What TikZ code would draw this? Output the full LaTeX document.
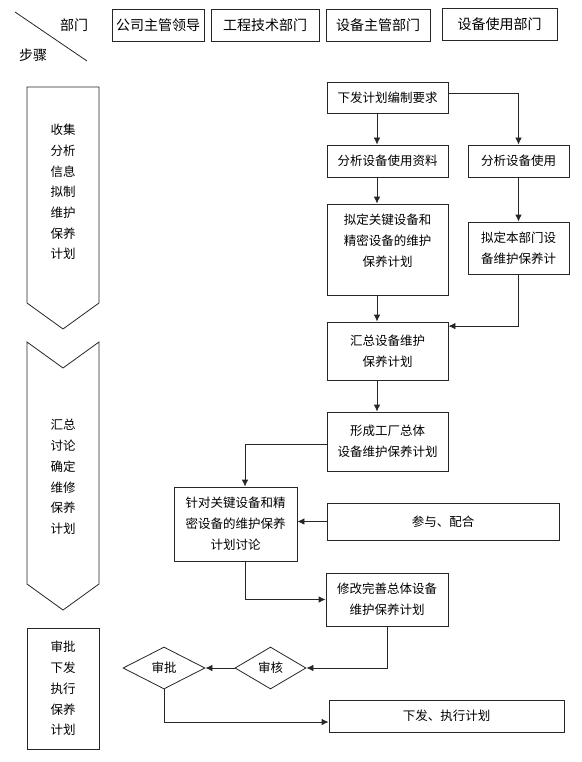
\documentclass[tikz,border=0pt]{standalone}
\usepackage{fontspec}
\newfontfamily\cjk{Noto Sans CJK SC}
\usetikzlibrary{shapes.geometric,arrows.meta,calc}
\begin{document}
\begin{tikzpicture}[x=1pt,y=-1pt,
  line/.style={draw=black!85, line width=0.8pt},
  arr/.style={line, -{Latex[length=7pt,width=6.5pt]}},
  box/.style={line, rectangle, inner sep=0pt, align=center, font=\cjk\fontsize{12.5}{21}\selectfont},
  hbox/.style={box, font=\cjk\fontsize{14}{17}\selectfont},
  htxt/.style={inner sep=0pt, font=\cjk\fontsize{14}{17}\selectfont},
  dia/.style={line, diamond, inner sep=0pt, font=\cjk\fontsize{12.5}{15}\selectfont},
  txt/.style={align=center, inner sep=0pt, font=\cjk\fontsize{12.5}{20.7}\selectfont},
]
\useasboundingbox (0,0) rectangle (581,762);

% header
\coordinate (dA) at (15,12);
\coordinate (dB) at (87,61);
\draw[line] (dA) -- (dB);
\node[htxt] (bm) at (74,25) {部门};
\node[htxt] (bz) at (33,55) {步骤};
\node[hbox, minimum width=92pt, minimum height=32pt] (h1) at (158,25) {公司主管领导};
\node[hbox, minimum width=108pt, minimum height=32pt] (h2) at (265,25) {工程技术部门};
\node[hbox, minimum width=104pt, minimum height=32pt] (h3) at (378,25) {设备主管部门};
\node[hbox, minimum width=115pt, minimum height=32pt] (h4) at (499.5,24) {设备使用部门};

% left step shapes
\draw[line] (27,87) -- (99,87) -- (99,303) -- (63,329) -- (27,303) -- cycle;
\node[txt] (s1) at (63,192) {收集\\分析\\信息\\拟制\\维护\\保养\\计划};
\draw[line] (27,342) -- (63,368) -- (99,342) -- (99,584) -- (63,610) -- (27,584) -- cycle;
\node[txt] (s2) at (63,477) {汇总\\讨论\\确定\\维修\\保养\\计划};
\node[box, minimum width=72pt, minimum height=121pt, font=\cjk\fontsize{12.5}{20.7}\selectfont] (s3) at (63,688.5) {审批\\下发\\执行\\保养\\计划};

% flow nodes
\node[box, minimum width=121pt, minimum height=31pt] (n1) at (387.5,97.5) {下发计划编制要求};
\node[box, minimum width=121pt, minimum height=32pt] (n2) at (387.5,161) {分析设备使用资料};
\node[box, minimum width=121pt, minimum height=91pt, text depth=18pt] (n3) at (387.5,249.5) {拟定关键设备和\\精密设备的维护\\保养计划};
\node[box, minimum width=101pt, minimum height=32pt] (r1) at (518.5,161) {分析设备使用};
\node[box, minimum width=101pt, minimum height=52pt] (r2) at (518.5,248) {拟定本部门设\\备维护保养计};
\node[box, minimum width=121pt, minimum height=58pt] (n4) at (387.5,351) {汇总设备维护\\保养计划};
\node[box, minimum width=121pt, minimum height=59pt] (n5) at (387.5,441.5) {形成工厂总体\\设备维护保养计划};
\node[box, minimum width=123pt, minimum height=74pt] (n6) at (235.5,524) {针对关键设备和精\\密设备的维护保养\\计划讨论};
\node[box, minimum width=232pt, minimum height=37pt] (p) at (443,521.5) {参与、配合};
\node[box, minimum width=122pt, minimum height=53pt] (n7) at (387,599.5) {修改完善总体设备\\维护保养计划};
\node[dia, minimum width=71pt, minimum height=42pt] (d1) at (270.5,668) {审核};
\node[dia, minimum width=82pt, minimum height=42pt] (d2) at (164,668) {审批};
\node[box, minimum width=235pt, minimum height=32pt] (n8) at (446.5,716) {下发、执行计划};

% helper x positions
\coordinate (ax) at (377,0);
\coordinate (bx) at (245,0);

% connectors
\draw[arr] (n1.south -| ax) -- (n2.north -| ax);
\draw[arr] (n2.south -| ax) -- (n3.north -| ax);
\draw[arr] (n3.south -| ax) -- (n4.north -| ax);
\draw[arr] (n4.south -| ax) -- (n5.north -| ax);
\draw[arr] ([yshift=4.5pt]n1.east) -| (r1.north);
\draw[arr] (r1.south) -- (r2.north);
\draw[arr] (r2.south) |- ([yshift=-4.5pt]n4.north east);
\draw[arr] ([yshift=-2.5pt]n5.west) -| (n6.north -| bx);
\draw[arr] (p.west) -- (p.west -| n6.east);
\draw[arr] (n6.south -| bx) |- (n7.west);
\draw[arr] (n7.south) |- (d1.east);
\draw[arr] (d1.west) -- (d2.east);
\draw[arr] (d2.south) |- ([yshift=-6pt]n8.west);
\end{tikzpicture}
\end{document}
